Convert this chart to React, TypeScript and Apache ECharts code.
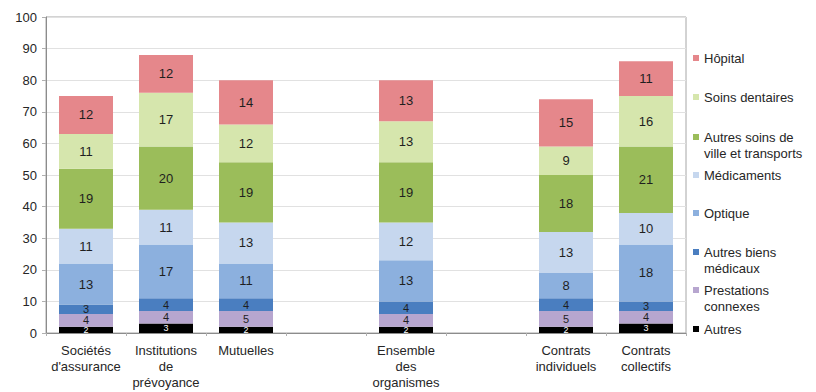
import React, { useEffect, useRef } from "react";
import * as echarts from "echarts";

// Catégories (deux emplacements vides séparent les groupes)
const categories = [
  "Sociétés\nd'assurance",
  "Institutions\nde\nprévoyance",
  "Mutuelles",
  "",
  "Ensemble\ndes\norganismes",
  "",
  "Contrats\nindividuels",
  "Contrats\ncollectifs",
];

// Postes de dépense, du bas vers le haut de la pile
const autres = [2, 3, 2, null, 2, null, 2, 3];
const prestationsConnexes = [4, 4, 5, null, 4, null, 5, 4];
const autresBiensMedicaux = [3, 4, 4, null, 4, null, 4, 3];
const optique = [13, 17, 11, null, 13, null, 8, 18];
const medicaments = [11, 11, 13, null, 12, null, 13, 10];
const autresSoinsVille = [19, 20, 19, null, 19, null, 18, 21];
const soinsDentaires = [11, 17, 12, null, 13, null, 9, 16];
const hopital = [12, 12, 14, null, 13, null, 15, 11];

const yTicks = [0, 10, 20, 30, 40, 50, 60, 70, 80, 90, 100];

const FONT = "'Liberation Sans', Arial, sans-serif";

const seriesDefs = [
  { name: "Autres", data: autres, color: "#000000", label: "#ffffff" },
  { name: "Prestations connexes", data: prestationsConnexes, color: "#b7a6cf", label: "#1f1f1f" },
  { name: "Autres biens médicaux", data: autresBiensMedicaux, color: "#4a7ec0", label: "#1f1f1f" },
  { name: "Optique", data: optique, color: "#8cb0de", label: "#1f1f1f" },
  { name: "Médicaments", data: medicaments, color: "#c6d7ee", label: "#1f1f1f" },
  { name: "Autres soins de ville et transports", data: autresSoinsVille, color: "#9bbd5a", label: "#1f1f1f" },
  { name: "Soins dentaires", data: soinsDentaires, color: "#d6e6ad", label: "#1f1f1f" },
  { name: "Hôpital", data: hopital, color: "#e5878b", label: "#1f1f1f" },
];

// Libellés de légende sur deux lignes ; la ligne vide en tête aligne
// l'icône sur la première ligne du libellé
const legendText: Record<string, string> = {
  "Autres soins de ville et transports": "\nAutres soins de\nville et transports",
  "Autres biens médicaux": "\nAutres biens\nmédicaux",
  "Prestations connexes": "\nPrestations\nconnexes",
};

// Centre vertical de l'icône de chaque entrée de légende
const legendRows = [
  { name: "Hôpital", y: 58 },
  { name: "Soins dentaires", y: 97 },
  { name: "Autres soins de ville et transports", y: 137 },
  { name: "Médicaments", y: 175 },
  { name: "Optique", y: 213 },
  { name: "Autres biens médicaux", y: 252 },
  { name: "Prestations connexes", y: 290 },
  { name: "Autres", y: 329 },
];

export default function App() {
  const ref = useRef<HTMLDivElement>(null);

  useEffect(() => {
    if (!ref.current) return;
    const chart = echarts.init(ref.current, undefined, { renderer: "svg" });

    const totals = categories.map((_, i) => {
      if (autres[i] === null) return null;
      return seriesDefs.reduce((s, d) => s + (d.data[i] as number), 0);
    });

    const LH = 16;
    const legends = legendRows.map((row) => {
      const twoLines = !!legendText[row.name];
      return {
        show: true,
        data: [row.name],
        left: 693,
        top: twoLines ? row.y - LH * 1.5 : row.y - LH / 2,
        padding: 0,
        itemWidth: 6,
        itemHeight: 6,
        icon: "rect",
        formatter: (n: string) => legendText[n] || n,
        textStyle: {
          fontFamily: FONT,
          fontSize: 13,
          color: "#262626",
          lineHeight: LH,
        },
        selectedMode: false,
      };
    });

    const option: any = {
      animation: false,
      backgroundColor: "#ffffff",
      textStyle: { fontFamily: FONT },
      legend: legends,
      grid: {
        left: 46,
        top: 17,
        width: 640,
        height: 316,
        show: true,
        borderColor: "#a6a6a6",
        borderWidth: 1,
      },
      xAxis: {
        type: "category",
        data: categories,
        axisLine: { show: true, lineStyle: { color: "#8c8c8c", width: 1 } },
        axisTick: { show: true, alignWithLabel: false, length: 3, lineStyle: { color: "#b0b0b0" } },
        axisLabel: {
          interval: 0,
          fontFamily: FONT,
          fontSize: 13,
          color: "#262626",
          lineHeight: 16,
          margin: 9,
        },
      },
      yAxis: {
        type: "value",
        min: 0,
        max: 100,
        interval: 10,
        axisLine: { show: true, lineStyle: { color: "#8c8c8c" } },
        axisTick: { show: true, length: 4, lineStyle: { color: "#b0b0b0" } },
        axisLabel: {
          fontFamily: FONT,
          fontSize: 13,
          color: "#262626",
          margin: 9,
          formatter: (v: number) => (yTicks.includes(v) ? String(v) : ""),
        },
        splitLine: { show: true, lineStyle: { color: "#e1e1e1", width: 1 } },
      },
      series: [
        ...seriesDefs.map((d) => {
          const small = d.data.every((v) => v === null || (v as number) <= 5);
          return {
            name: d.name,
            type: "bar",
            stack: "total",
            barWidth: 54,
            data: d.data,
            itemStyle: { color: d.color },
            label: {
              show: true,
              position: "inside",
              fontFamily: FONT,
              fontSize: d.name === "Autres" ? 9 : small ? 11 : 13,
              lineHeight: d.name === "Autres" ? 9 : small ? 11 : 15,
              color: d.label,
            },
          };
        }),
        {
          name: "Total",
          type: "line",
          data: totals,
          symbol: "none",
          lineStyle: { opacity: 0 },
          connectNulls: false,
          silent: true,
          label: {
            show: true,
            position: "top",
            distance: 8,
            fontFamily: FONT,
            fontSize: 13,
            color: "#262626",
          },
          z: 5,
        },
      ],
    };

    chart.setOption(option);
    return () => chart.dispose();
  }, []);

  return <div ref={ref} style={{ width: 816, height: 392, position: "absolute", left: 0, top: 0 }} />;
}
